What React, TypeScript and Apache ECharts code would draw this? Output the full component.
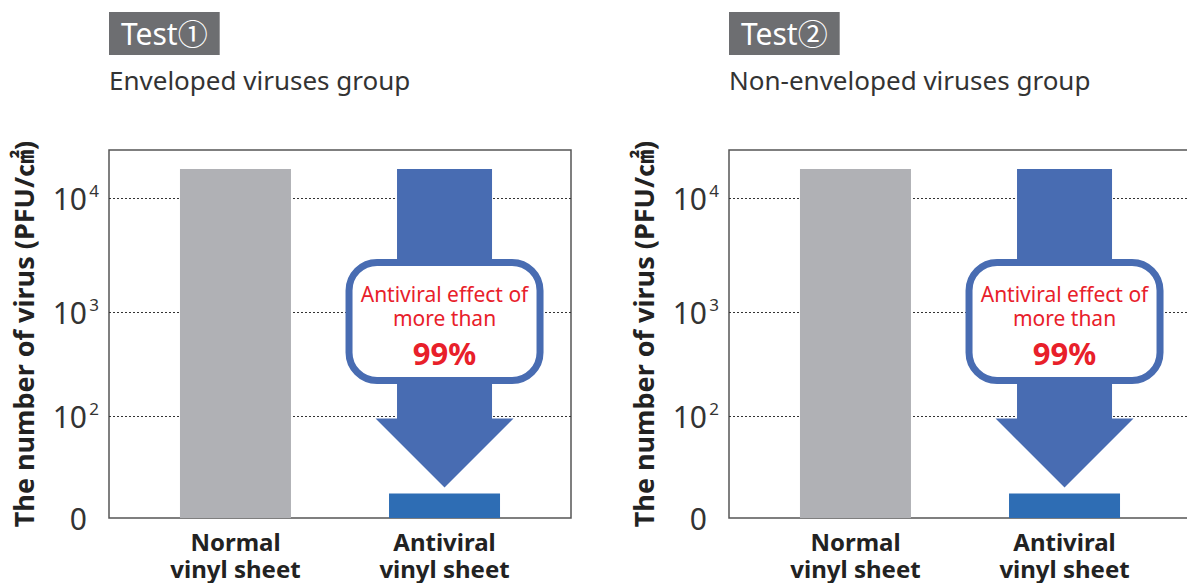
import React, { useEffect, useRef } from 'react';
import * as echarts from 'echarts';

const categories = ['Normal\nvinyl sheet', 'Antiviral\nvinyl sheet'];
const panelBadges = ['Test①', 'Test②'];
const panelSubtitles = ['Enveloped viruses group', 'Non-enveloped viruses group'];
const test1Counts = [18000, 24];
const test2Counts = [18000, 24];
const panelCounts = [test1Counts, test2Counts];
const tickValues = [0, 100, 1000, 10000];
const tickBase = ['0', '10', '10', '10'];
const tickExp = ['', '2', '3', '4'];
const yAxisName = 'The number of virus (PFU/㎠)';
const calloutLines = ['Antiviral effect of', 'more than', '99%'];

// schematic (broken) axis: axis positions of 0, 10^2, 10^3, 10^4
const SCALE_POS = [0, 102, 206, 320];
const SCALE_MAX = 368;

const FONT = "'Noto Sans', 'Noto Sans CJK JP', sans-serif";
const BAR_COLORS = ['#b0b1b5', '#2e6db4'];
const ARROW_COLOR = '#486cb2';
const RED = '#e8202a';
const GRID_LEFTS = [109, 729];
const GRID_TOP = 150;
const GRID_W = 462;
const GRID_H = 368;

function toAxis(v: number): number {
  if (v <= tickValues[1]) return (v / tickValues[1]) * SCALE_POS[1];
  const L = Math.log10(v);
  for (let i = 1; i < tickValues.length - 1; i++) {
    const a = Math.log10(tickValues[i]);
    const b = Math.log10(tickValues[i + 1]);
    if (L <= b) return SCALE_POS[i] + ((L - a) / (b - a)) * (SCALE_POS[i + 1] - SCALE_POS[i]);
  }
  const n = tickValues.length - 1;
  const a = Math.log10(tickValues[n - 1]);
  const b = Math.log10(tickValues[n]);
  return SCALE_POS[n] + ((L - b) / (b - a)) * (SCALE_POS[n] - SCALE_POS[n - 1]);
}

const tickPositions = tickValues.map(toAxis);

function yLabel(v: number): string {
  let idx = 0;
  let best = Infinity;
  tickPositions.forEach((p, i) => {
    const d = Math.abs(p - v);
    if (d < best) {
      best = d;
      idx = i;
    }
  });
  return tickExp[idx] ? `{b|${tickBase[idx]}}{s|${tickExp[idx]}}` : `{b|${tickBase[idx]}}{p| }`;
}

export default function App() {
  const ref = useRef<HTMLDivElement>(null);
  useEffect(() => {
    if (!ref.current) return;
    const chart = echarts.init(ref.current, undefined, { renderer: 'svg' });
    const panels = [0, 1];
    chart.setOption({
      animation: false,
      textStyle: { fontFamily: FONT },
      title: panels.flatMap((i) => [
        {
          text: panelBadges[i],
          left: GRID_LEFTS[i],
          top: 12,
          backgroundColor: '#6d6e71',
          padding: [4, 12, 4, 12],
          textStyle: { color: '#ffffff', fontSize: 30, fontWeight: 'normal', lineHeight: 35, fontFamily: FONT },
        },
        {
          text: panelSubtitles[i],
          left: GRID_LEFTS[i],
          top: 65,
          padding: 0,
          textStyle: { color: '#333333', fontSize: 26, fontWeight: 'normal', lineHeight: 30, fontFamily: FONT },
        },
      ]),
      grid: panels.map((i) => ({
        left: GRID_LEFTS[i],
        top: GRID_TOP,
        width: GRID_W,
        height: GRID_H,
        show: true,
        borderColor: '#555555',
        borderWidth: 1.5,
        backgroundColor: 'transparent',
        containLabel: false,
        outerBoundsMode: 'none',
      })),
      xAxis: panels.map((i) => ({
        gridIndex: i,
        type: 'value',
        min: -0.605,
        max: 1.605,
        axisLine: { show: false },
        axisTick: { show: false, customValues: [0, 1] },
        splitLine: { show: false },
        axisLabel: {
          customValues: [0, 1],
          formatter: (v: number) => categories[Math.round(v)],
          fontSize: 24,
          fontWeight: 'bold',
          color: '#222222',
          lineHeight: 27,
          margin: 10,
          fontFamily: FONT,
        },
      })),
      yAxis: panels.map((i) => ({
        gridIndex: i,
        type: 'value',
        min: 0,
        max: SCALE_MAX,
        name: yAxisName,
        nameLocation: 'middle',
        nameGap: 72,
        nameRotate: 90,
        nameTextStyle: { fontSize: 27, fontWeight: 'bold', color: '#222222', fontFamily: FONT },
        axisLine: { show: false },
        axisTick: { show: false, customValues: tickPositions.slice(1) },
        axisLabel: {
          customValues: tickPositions,
          formatter: yLabel,
          margin: 10,
          rich: {
            b: { fontSize: 30, color: '#333333', fontFamily: FONT, lineHeight: 32 },
            s: { fontSize: 17, color: '#333333', fontFamily: FONT, verticalAlign: 'top', lineHeight: 20, width: 12 },
            p: { fontSize: 17, width: 12 },
          },
        },
        splitLine: { show: true, lineStyle: { type: [2, 2], color: '#333333', width: 1 } },
      })),
      series: panels.map((i) => ({
        type: 'bar',
        xAxisIndex: i,
        yAxisIndex: i,
        barWidth: 111,
        silent: true,
        data: panelCounts[i].map((c, j) => ({ value: [j, toAxis(c)], itemStyle: { color: BAR_COLORS[j] } })),
      })),
    });

    const gfx: any[] = [];
    panels.forEach((i) => {
      const counts = panelCounts[i];
      const top = chart.convertToPixel({ xAxisIndex: i, yAxisIndex: i } as any, [1, toAxis(counts[0])]) as number[];
      const low = chart.convertToPixel({ xAxisIndex: i, yAxisIndex: i } as any, [1, toAxis(counts[1])]) as number[];
      const cx = top[0];
      const y0 = top[1];
      const tipY = low[1] - 6;
      const headHalf = 69;
      const shaftHalf = 47.5;
      const headY = tipY - headHalf;
      const boxCy = y0 + 152.5;
      gfx.push({
        type: 'polygon',
        z: 10,
        silent: true,
        shape: {
          points: [
            [cx - shaftHalf, y0],
            [cx + shaftHalf, y0],
            [cx + shaftHalf, headY],
            [cx + headHalf, headY],
            [cx, tipY],
            [cx - headHalf, headY],
            [cx - shaftHalf, headY],
          ],
        },
        style: { fill: ARROW_COLOR },
      });
      gfx.push({
        type: 'rect',
        z: 11,
        silent: true,
        shape: { x: cx - 95.5, y: boxCy - 59, width: 191, height: 118, r: 28 },
        style: { fill: '#ffffff', stroke: ARROW_COLOR, lineWidth: 7 },
      });
      const offs = [-27.5, -3.5, 31.5];
      calloutLines.forEach((t, k) => {
        gfx.push({
          type: 'text',
          z: 12,
          silent: true,
          x: cx,
          y: boxCy + offs[k],
          style: {
            text: t,
            fill: RED,
            fontSize: k === 2 ? 31 : 21,
            fontWeight: k === 2 ? 'bold' : 'normal',
            fontFamily: FONT,
            align: 'center',
            verticalAlign: 'middle',
          },
        });
      });
    });
    chart.setOption({ graphic: gfx });

    return () => chart.dispose();
  }, []);
  return (
    <div
      ref={ref}
      style={{ position: 'fixed', left: 0, top: 0, width: 1187, height: 583, background: '#ffffff' }}
    />
  );
}
